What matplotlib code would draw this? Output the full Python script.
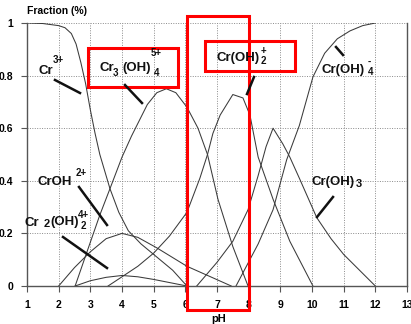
import matplotlib.pyplot as plt
from matplotlib.patches import Rectangle

# species fractions vs pH
cr3_ph = [1, 1.5, 2.0, 2.2, 2.4, 2.55, 2.7, 2.85, 3.0, 3.15, 3.3, 3.62, 3.9, 4.2, 4.6, 5.1, 5.6, 6.05]
cr3_fr = [1, 0.998, 0.99, 0.982, 0.96, 0.92, 0.85, 0.77, 0.67, 0.58, 0.5, 0.37, 0.28, 0.21, 0.16, 0.11, 0.06, 0]

cr3oh4_ph = [2.52, 2.88, 3.3, 3.62, 4.0, 4.3, 4.8, 5.1, 5.4, 5.7, 6.05, 6.4, 6.7, 7.03, 7.5, 7.98]
cr3oh4_fr = [0, 0.125, 0.27, 0.37, 0.49, 0.57, 0.69, 0.735, 0.75, 0.735, 0.68, 0.6, 0.5, 0.33, 0.15, 0]

croh_ph = [2.0, 2.5, 3.0, 3.5, 4.0, 4.5, 5.1, 6.05, 7.45]
croh_fr = [0, 0.07, 0.13, 0.18, 0.2, 0.185, 0.145, 0.075, 0]

cr2oh2_ph = [2.52, 3.0, 3.5, 4.0, 4.5, 5.0, 6.05]
cr2oh2_fr = [0, 0.02, 0.033, 0.04, 0.035, 0.025, 0]

croh2_ph = [3.56, 4.0, 4.5, 5.0, 5.5, 6.05, 6.46, 6.7, 6.87, 7.1, 7.5, 7.82, 8.04, 8.3, 8.77, 9.3, 10.03]
croh2_fr = [0, 0.035, 0.075, 0.125, 0.19, 0.28, 0.41, 0.5, 0.58, 0.65, 0.728, 0.715, 0.65, 0.49, 0.33, 0.17, 0]

croh3_ph = [6.36, 7.0, 7.5, 7.98, 8.3, 8.55, 8.77, 9.08, 9.3, 9.6, 10.15, 10.6, 11.0, 11.5, 12.0]
croh3_fr = [0, 0.09, 0.17, 0.29, 0.42, 0.53, 0.6, 0.54, 0.49, 0.41, 0.26, 0.18, 0.12, 0.06, 0]

croh4_ph = [7.6, 8.3, 8.77, 9.2, 9.6, 10.03, 10.4, 10.8, 11.2, 11.6, 12.0]
croh4_fr = [0, 0.16, 0.29, 0.48, 0.61, 0.795, 0.885, 0.94, 0.97, 0.99, 1.0]

curves = [(cr3_ph, cr3_fr), (cr3oh4_ph, cr3oh4_fr), (croh_ph, croh_fr),
          (cr2oh2_ph, cr2oh2_fr), (croh2_ph, croh2_fr), (croh3_ph, croh3_fr),
          (croh4_ph, croh4_fr)]

x_ticks = list(range(1, 14))
y_ticks = [0, 0.2, 0.4, 0.6, 0.8, 1]
y_ticklabels = ['0', '0.2', '0.4', '0.6', '0.8', '1']

plt.rcParams['font.family'] = ['Liberation Sans', 'DejaVu Sans']
plt.rcParams['font.weight'] = 'bold'

W, H = 411, 324
fig = plt.figure(figsize=(W / 100, H / 100), dpi=100)
ax = fig.add_axes([27 / W, 1 - 286 / H, 380 / W, 263 / H])

for ph, fr in curves:
    ax.plot(ph, fr, color='#3a3a3a', lw=0.75)

ax.set_xlim(1, 13)
ax.set_ylim(0, 1)
ax.set_xticks(x_ticks)
ax.set_xticklabels([str(t) for t in x_ticks], fontsize=7.5)
ax.set_yticks(y_ticks)
ax.set_yticklabels(y_ticklabels, fontsize=7.5)
ax.tick_params(direction='out', length=4, width=0.8, color='#555555', pad=6)
ax.grid(True, ls=(0, (1, 1.5)), color='#8a8a8a', lw=0.7)
ax.spines['top'].set_visible(False)
for s in ['left', 'bottom', 'right']:
    ax.spines[s].set_color('#555555')
    ax.spines[s].set_linewidth(1.0)

fig.text(27 / W, 1 - 11.5 / H, 'Fraction (%)', fontsize=7.5, ha='left', va='center')
fig.text(219 / W, 1 - 319 / H, 'pH', fontsize=8, ha='center', va='center')


def label(x, y, s, size=9.5):
    fig.text(x / W, 1 - y / H, s, fontsize=size, ha='left', va='center', color='#111111')


# species labels, built from pieces so the sub/superscripts sit like the plate
label(38, 71, 'Cr')
label(53, 60, '3+', 7)
label(99, 68, 'Cr')
label(113, 73, '3', 7)
label(122, 68, '(OH)')
label(154, 73, '4', 7)
label(151, 53, '5+', 7)
label(216, 58, 'Cr(OH)')
label(261, 51, '+', 7)
label(261, 61, '2', 7)
label(321, 70, 'Cr(OH)')
label(368, 62, '-', 7)
label(368, 72, '4', 7)
label(37, 182, 'CrOH')
label(76, 173, '2+', 7)
label(24, 223, 'Cr')
label(44, 224, '2', 8)
label(50, 222, '(OH)')
label(78, 215, '4+', 7)
label(81, 226, '2', 7)
label(312, 182, 'Cr(OH)')
label(356, 184, '3', 8)

# pointer strokes from labels to curves
pointers = [((55, 80), (80, 93)), ((125, 85), (142, 103)), ((254, 77), (247, 94)),
            ((336, 47), (343, 55)), ((79, 187), (107, 225)), ((63, 237), (107, 268)),
            ((333, 197), (317, 217))]
for (x0, y0), (x1, y1) in pointers:
    fig.add_artist(plt.Line2D([x0 / W, x1 / W], [1 - y0 / H, 1 - y1 / H],
                              color='#111111', lw=1.8, transform=fig.transFigure))

# red highlight boxes
for (x0, y0, x1, y1) in [(88, 48, 178, 87), (205, 41, 295, 71), (187, 16, 249, 310)]:
    fig.add_artist(Rectangle((x0 / W, 1 - y1 / H), (x1 - x0) / W, (y1 - y0) / H,
                             fill=False, edgecolor='#ff0000', lw=2.2,
                             transform=fig.transFigure, clip_on=False))

fig.savefig('out.png', dpi=100)
